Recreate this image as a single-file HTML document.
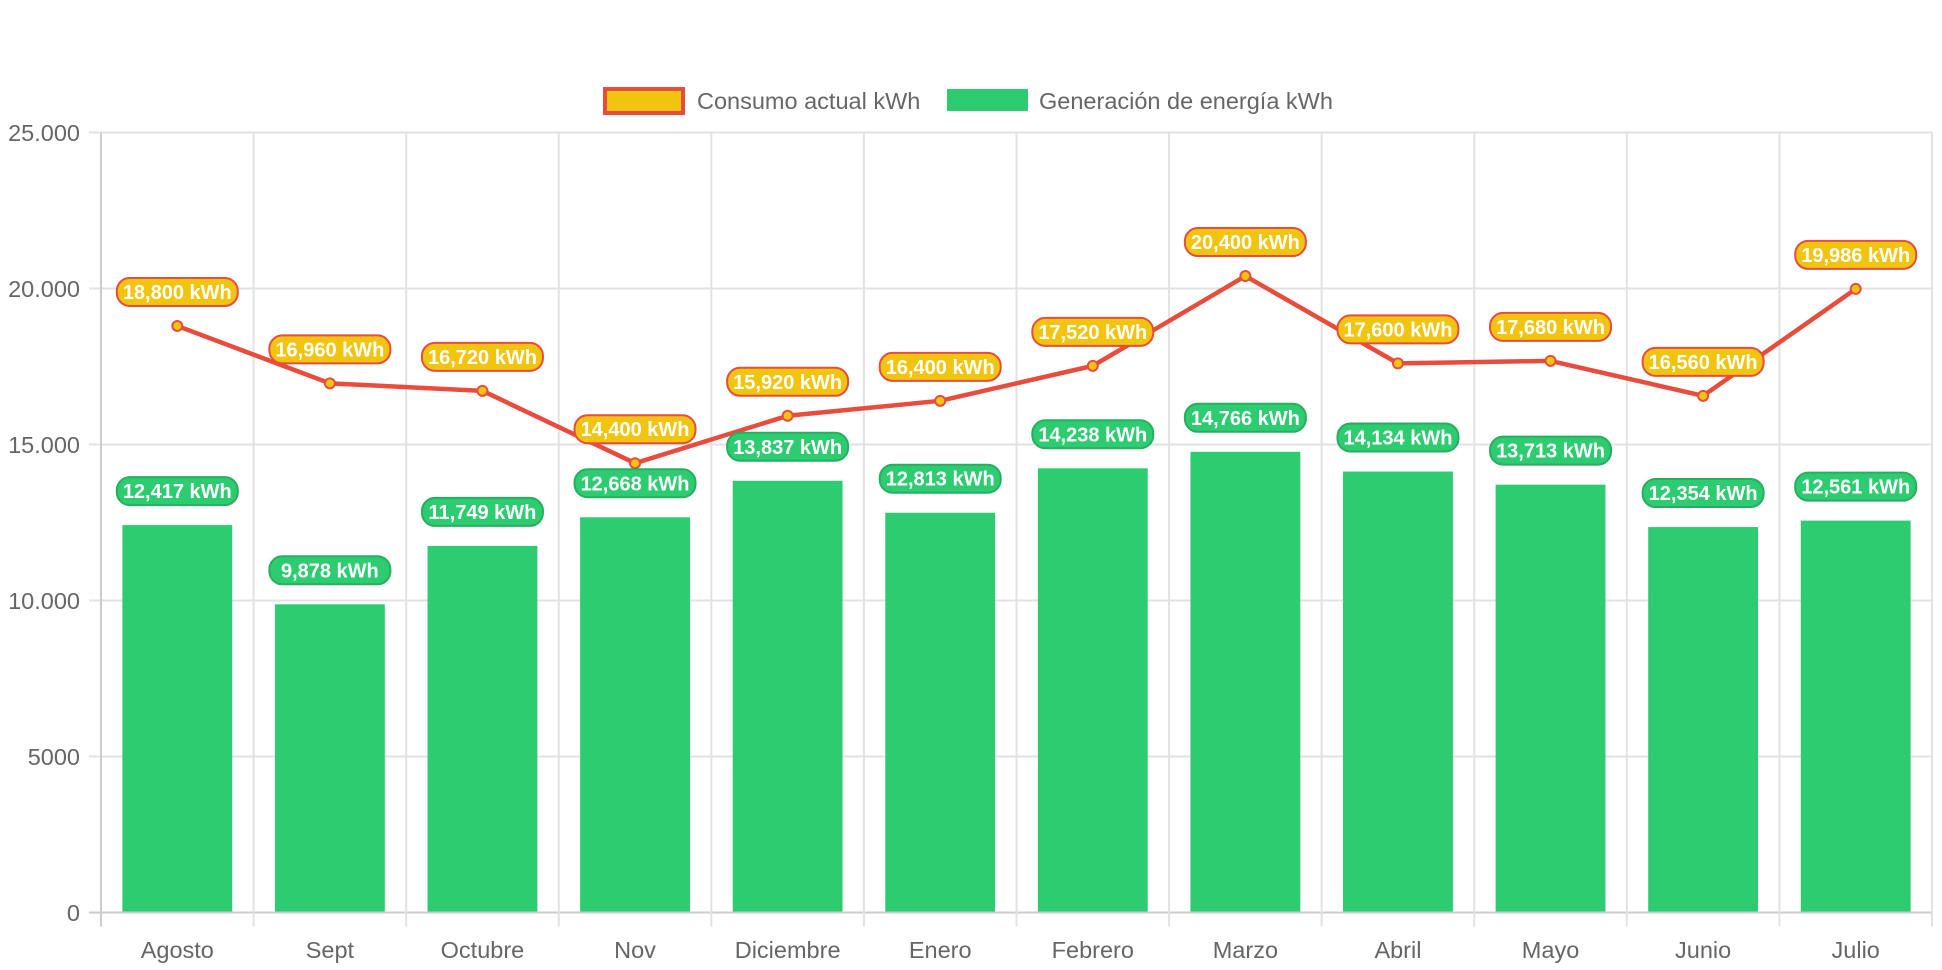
<!DOCTYPE html>
<html><head><meta charset="utf-8"><style>
html,body{margin:0;padding:0;background:#fff;}
svg{display:block;font-family:"Liberation Sans",Arial,sans-serif;}
</style></head><body>
<svg id="chart" width="1942" height="970" viewBox="0 0 1942 970">
<g id="legend">
  <g>
    <rect x="605" y="89" width="78" height="24" fill="#f1c40f" stroke="#e74c3c" stroke-width="4"/>
    <text x="697" y="109" font-size="23.5" fill="#666">Consumo actual kWh</text>
  </g>
  <g>
    <rect x="947" y="89" width="81" height="22" fill="#2ecc71"/>
    <text x="1039" y="109" font-size="23.5" fill="#666">Generación de energía kWh</text>
  </g>
</g>
<g id="grid"></g>
<g id="bars"></g>
<g id="line"></g>
<g id="labels"></g>
</svg>
<script>
const categories = ["Agosto","Sept","Octubre","Nov","Diciembre","Enero","Febrero","Marzo","Abril","Mayo","Junio","Julio"];
const consumo = [18800,16960,16720,14400,15920,16400,17520,20400,17600,17680,16560,19986];
const generacion = [12417,9878,11749,12668,13837,12813,14238,14766,14134,13713,12354,12561];
const yTicks = [0,5000,10000,15000,20000,25000];
const yTickLabels = ["0","5000","10.000","15.000","20.000","25.000"];

const NS="http://www.w3.org/2000/svg";
const L=101, R=1932, T=132.5, B=912.5, YMAX=25000;
const cw=(R-L)/categories.length;
const xC=i=>L+cw*(i+0.5);
const y=v=>B-(v/YMAX)*(B-T);
function mk(tag,attrs,parent){const e=document.createElementNS(NS,tag);for(const k in attrs)e.setAttribute(k,attrs[k]);parent.appendChild(e);return e;}
const grid=document.getElementById('grid'),bars=document.getElementById('bars'),line=document.getElementById('line'),labels=document.getElementById('labels');
yTicks.forEach((t,i)=>{
  const g=mk('line',{x1:L-12,x2:R,y1:y(t),y2:y(t),stroke:i===0?'#ccc':'#e2e2e2','stroke-width':2},grid);
  
  
  const tx=mk('text',{x:80,y:y(t)+8.5,'text-anchor':'end','font-size':23.5,fill:'#666'},grid);
  tx.textContent=yTickLabels[i];
  
  
});
for(let i=0;i<=categories.length;i++){
  const x=L+cw*i;
  const g=mk('line',{x1:x,x2:x,y1:T,y2:B+14,stroke:i===0?'#ccc':'#e2e2e2','stroke-width':2},grid);
  
  
}
categories.forEach((c,i)=>{
  const tx=mk('text',{x:xC(i),y:958,'text-anchor':'middle','font-size':23.5,fill:'#666'},grid);
  tx.textContent=c;
  
  
});
const bw=cw*0.72;
generacion.forEach((v,i)=>{
  const r=mk('rect',{x:xC(i)-bw/2,y:y(v),width:bw,height:B-1-y(v),fill:'#2ecc71'},bars);
  
  
});
const pts=consumo.map((v,i)=>xC(i)+','+y(v)).join(' ');
const pl=mk('polyline',{points:pts,fill:'none',stroke:'#e74c3c','stroke-width':4.5,'stroke-linejoin':'round'},line);


consumo.forEach((v,i)=>{
  const c=mk('circle',{cx:xC(i),cy:y(v),r:5,fill:'#f1c40f',stroke:'#e74c3c','stroke-width':2},line);
  
  
});
function pill(cx,cy,text,fill,stroke,name){
  const g=mk('g',{},labels);
  
  
  const w=121,h=28;
  mk('rect',{x:cx-w/2,y:cy-h/2,width:w,height:h,rx:13,ry:13,fill:fill,stroke:stroke,'stroke-width':2},g);
  const t=mk('text',{x:cx,y:cy+7,'text-anchor':'middle','font-size':20,'font-weight':'bold',fill:'#fff'},g);
  t.textContent=text;
}
const fmt=v=>v.toLocaleString('en-US')+' kWh';
generacion.forEach((v,i)=>pill(xC(i),y(v)-34,fmt(v),'#2ecc71','#27ae60','generation-label'));
consumo.forEach((v,i)=>pill(xC(i),y(v)-34,fmt(v),'#f1c40f','#e74c3c','consumption-label'));
</script>
</body></html>
